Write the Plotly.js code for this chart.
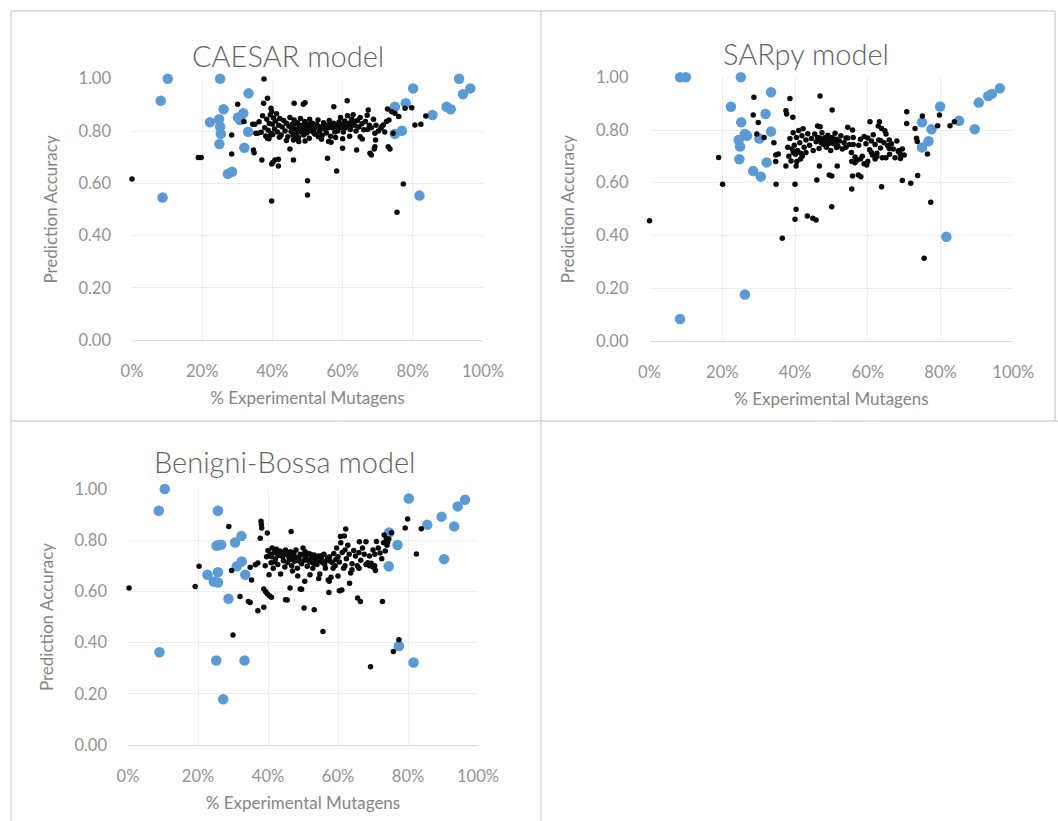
<!DOCTYPE html>
<html>
<head>
<meta charset="utf-8">
<script src="https://cdn.plot.ly/plotly-3.0.1.min.js"></script>
<style>
  html, body { margin: 0; padding: 0; background: #ffffff; }
  #chart { width: 1058px; height: 821px; }
</style>
</head>
<body>
<div id="chart"></div>
<script>
// Panel titles
const panelTitles = ["CAESAR model", "SARpy model", "Benigni-Bossa model"];
const xAxisTitle = "% Experimental Mutagens";
const yAxisTitle = "Prediction Accuracy";

// Each point: [fraction of experimental mutagens, prediction accuracy]
// CAESAR model
const caesarBlue = [
  [0.102,1.00],[0.082,0.916],[0.087,0.546],[0.251,1.00],[0.332,0.944],[0.261,0.883],
  [0.222,0.833],[0.248,0.845],[0.251,0.816],[0.253,0.789],[0.249,0.750],[0.273,0.636],
  [0.285,0.644],[0.302,0.852],[0.317,0.868],[0.308,0.842],[0.331,0.797],[0.320,0.736],
  [0.801,0.963],[0.749,0.893],[0.780,0.906],[0.749,0.789],[0.769,0.801],[0.819,0.553],
  [0.856,0.861],[0.896,0.893],[0.908,0.883],[0.932,1.00],[0.943,0.941],[0.964,0.963]
];
const caesarBlack = [
  [0.000,0.616],[0.189,0.699],[0.197,0.699],[0.284,0.785],[0.284,0.712],[0.301,0.902],
  [0.319,0.836],[0.344,0.826],[0.350,0.826],[0.346,0.727],[0.348,0.717],[0.353,0.791],
  [0.358,0.791],[0.370,0.689],[0.375,0.906],[0.376,0.999],[0.386,0.925],[0.396,0.887],
  [0.398,0.874],[0.398,0.674],[0.401,0.680],[0.407,0.689],[0.417,0.692],[0.417,0.666],
  [0.398,0.532],[0.386,0.772],[0.393,0.782],[0.401,0.787],[0.450,0.731],[0.460,0.689],
  [0.460,0.766],[0.462,0.906],[0.464,0.772],[0.472,0.769],[0.488,0.902],[0.493,0.908],
  [0.493,0.762],[0.500,0.610],[0.500,0.555],[0.519,0.791],[0.531,0.778],[0.557,0.696],
  [0.567,0.757],[0.575,0.893],[0.583,0.647],[0.600,0.734],[0.613,0.916],[0.640,0.727],
  [0.656,0.769],[0.671,0.806],[0.673,0.880],[0.678,0.715],[0.682,0.708],[0.692,0.791],
  [0.694,0.766],[0.692,0.740],[0.690,0.731],[0.702,0.800],[0.709,0.810],[0.716,0.823],
  [0.725,0.836],[0.732,0.842],[0.728,0.884],[0.730,0.740],[0.735,0.731],[0.740,0.874],
  [0.744,0.791],[0.749,0.868],[0.755,0.489],[0.773,0.597],[0.778,0.887],[0.797,0.889],
  [0.806,0.823],[0.823,0.826],[0.837,0.857],[0.760,0.855],
  [0.362,0.835],[0.368,0.795],[0.372,0.858],[0.378,0.812],[0.381,0.781],[0.384,0.845],
  [0.388,0.803],[0.391,0.829],[0.394,0.862],[0.397,0.790],[0.400,0.826],[0.403,0.850],
  [0.406,0.808],[0.409,0.838],[0.412,0.866],[0.415,0.796],[0.418,0.822],[0.421,0.848],
  [0.425,0.785],[0.428,0.815],[0.432,0.840],[0.436,0.800],[0.440,0.830],[0.444,0.778],
  [0.447,0.818],[0.450,0.852],[0.453,0.798],[0.456,0.826],[0.459,0.784],[0.462,0.842],
  [0.465,0.808],[0.468,0.790],[0.471,0.832],[0.474,0.776],[0.477,0.812],[0.480,0.848],
  [0.483,0.795],[0.486,0.822],[0.489,0.785],[0.492,0.836],[0.495,0.806],[0.498,0.792],
  [0.502,0.826],[0.506,0.845],[0.510,0.800],[0.514,0.830],[0.518,0.812],[0.522,0.788],
  [0.526,0.824],[0.530,0.842],[0.534,0.798],[0.538,0.815],[0.542,0.784],[0.546,0.832],
  [0.550,0.806],[0.554,0.792],[0.558,0.822],[0.562,0.840],[0.566,0.780],[0.570,0.812],
  [0.574,0.830],[0.578,0.796],[0.582,0.818],[0.586,0.800],[0.590,0.834],[0.594,0.852],
  [0.598,0.812],[0.602,0.796],[0.606,0.838],[0.610,0.818],[0.614,0.858],[0.618,0.830],
  [0.622,0.806],[0.626,0.845],[0.630,0.862],[0.634,0.822],[0.638,0.800],[0.642,0.840],
  [0.646,0.815],[0.650,0.852],[0.655,0.828],[0.660,0.805],[0.665,0.836],[0.670,0.860],
  [0.676,0.822],[0.682,0.812],[0.688,0.845],[0.695,0.822],[0.712,0.818],[0.720,0.796],
  [0.455,0.815],[0.463,0.828],[0.470,0.806],[0.478,0.822],[0.485,0.810],[0.490,0.818],
  [0.497,0.814],[0.504,0.810],[0.512,0.818],[0.520,0.810],[0.528,0.820],[0.536,0.806],
  [0.544,0.816],[0.552,0.820],[0.560,0.812],[0.568,0.824],[0.576,0.816],[0.584,0.826],
  [0.592,0.815],[0.600,0.823],[0.608,0.812],[0.616,0.828],[0.624,0.821],[0.632,0.836],
  [0.390,0.770],[0.420,0.776],[0.440,0.764],[0.475,0.760],[0.505,0.772],[0.540,0.768],
  [0.580,0.775],[0.620,0.780],[0.560,0.760],[0.600,0.770],[0.650,0.778]
];

// SARpy model
const sarpyBlue = [
  [0.084,1.00],[0.100,1.00],[0.251,1.00],[0.334,0.943],[0.224,0.888],[0.319,0.861],
  [0.252,0.829],[0.262,0.785],[0.268,0.778],[0.245,0.762],[0.249,0.737],[0.334,0.794],
  [0.302,0.768],[0.247,0.689],[0.322,0.677],[0.285,0.644],[0.306,0.623],[0.262,0.176],
  [0.084,0.083],
  [0.799,0.889],[0.749,0.829],[0.775,0.803],[0.767,0.757],[0.749,0.734],[0.851,0.835],
  [0.894,0.803],[0.905,0.904],[0.931,0.929],[0.941,0.937],[0.963,0.958],[0.816,0.395]
];
const sarpyBlack = [
  [0.000,0.456],[0.190,0.696],[0.201,0.594],[0.287,0.924],[0.285,0.857],[0.299,0.828],
  [0.295,0.785],[0.315,0.772],[0.342,0.752],[0.347,0.705],[0.354,0.709],[0.347,0.680],
  [0.348,0.594],[0.365,0.389],[0.375,0.663],[0.400,0.594],[0.403,0.499],[0.400,0.461],
  [0.434,0.474],[0.449,0.465],[0.458,0.458],[0.386,0.920],[0.375,0.873],[0.377,0.861],
  [0.394,0.848],[0.403,0.663],[0.469,0.929],[0.502,0.876],[0.460,0.610],[0.467,0.663],
  [0.516,0.663],[0.494,0.629],[0.501,0.625],[0.501,0.509],[0.556,0.576],[0.638,0.585],
  [0.695,0.608],[0.718,0.598],[0.737,0.627],[0.707,0.869],[0.707,0.825],[0.750,0.853],
  [0.797,0.857],[0.792,0.816],[0.826,0.816],[0.838,0.831],[0.730,0.806],[0.734,0.769],
  [0.736,0.756],[0.764,0.709],[0.773,0.526],[0.755,0.313],[0.558,0.625],[0.574,0.629],
  [0.581,0.623],[0.462,0.815],[0.469,0.812],[0.558,0.800],[0.606,0.831],[0.632,0.831],
  [0.629,0.815],[0.638,0.806],[0.647,0.797],[0.659,0.762],[0.659,0.730],[0.684,0.718],
  [0.689,0.709],[0.613,0.705],[0.625,0.699],[0.597,0.667],[0.556,0.680],[0.565,0.676],
  [0.514,0.734],
  [0.380,0.735],[0.383,0.700],[0.386,0.768],[0.389,0.682],[0.392,0.728],[0.395,0.790],
  [0.398,0.742],[0.401,0.708],[0.404,0.772],[0.407,0.722],[0.410,0.798],[0.413,0.752],
  [0.416,0.712],[0.419,0.778],[0.422,0.805],[0.425,0.735],[0.430,0.762],[0.435,0.786],
  [0.440,0.742],[0.445,0.768],[0.450,0.722],[0.454,0.785],[0.458,0.755],[0.462,0.772],
  [0.466,0.730],[0.470,0.760],[0.474,0.790],[0.478,0.745],[0.482,0.770],[0.486,0.735],
  [0.490,0.780],[0.494,0.755],[0.498,0.722],[0.502,0.772],[0.506,0.748],[0.510,0.788],
  [0.514,0.765],[0.518,0.738],[0.522,0.758],[0.526,0.778],[0.530,0.728],[0.535,0.752],
  [0.540,0.735],[0.545,0.770],[0.550,0.745],[0.555,0.715],[0.560,0.772],[0.565,0.698],
  [0.570,0.685],[0.575,0.742],[0.580,0.765],[0.585,0.700],[0.590,0.672],[0.595,0.748],
  [0.600,0.770],[0.605,0.725],[0.610,0.758],[0.615,0.782],[0.620,0.745],[0.625,0.712],
  [0.630,0.762],[0.635,0.732],[0.640,0.695],[0.645,0.752],[0.650,0.785],[0.655,0.740],
  [0.660,0.708],[0.665,0.748],[0.670,0.728],[0.675,0.695],[0.680,0.758],[0.685,0.722],
  [0.690,0.692],[0.695,0.728],[0.700,0.705],
  [0.468,0.770],[0.472,0.752],[0.476,0.765],[0.480,0.760],[0.484,0.772],[0.488,0.758],
  [0.492,0.748],[0.496,0.770],[0.500,0.757],[0.504,0.762],[0.508,0.764],[0.512,0.750],
  [0.420,0.700],[0.415,0.690],[0.405,0.680],[0.395,0.715],[0.430,0.715],[0.540,0.770],
  [0.560,0.745],[0.580,0.690],[0.600,0.680],[0.620,0.690],[0.635,0.760],[0.650,0.695],
  [0.545,0.810],[0.590,0.775],[0.610,0.715]
];

// Benigni-Bossa model
const bbBlue = [
  [0.105,1.00],[0.088,0.915],[0.090,0.362],[0.257,0.915],[0.253,0.778],[0.261,0.781],
  [0.266,0.782],[0.227,0.665],[0.257,0.675],[0.245,0.639],[0.257,0.635],[0.287,0.571],
  [0.306,0.791],[0.324,0.816],[0.325,0.717],[0.311,0.698],[0.335,0.665],[0.252,0.330],
  [0.333,0.330],[0.272,0.179],
  [0.802,0.963],[0.746,0.830],[0.770,0.781],[0.745,0.698],[0.774,0.387],[0.816,0.322],
  [0.855,0.860],[0.896,0.892],[0.932,0.854],[0.903,0.726],[0.942,0.932],[0.963,0.958]
];
const bbBlack = [
  [0.003,0.613],[0.192,0.619],[0.203,0.698],[0.288,0.854],[0.296,0.682],[0.300,0.430],
  [0.320,0.580],[0.344,0.561],[0.349,0.557],[0.371,0.524],[0.388,0.538],[0.380,0.874],
  [0.381,0.861],[0.382,0.848],[0.378,0.808],[0.398,0.828],[0.450,0.567],[0.466,0.834],
  [0.463,0.613],[0.492,0.609],[0.503,0.535],[0.532,0.528],[0.557,0.443],[0.574,0.596],
  [0.622,0.844],[0.656,0.574],[0.664,0.561],[0.693,0.306],[0.727,0.561],[0.707,0.682],
  [0.758,0.365],[0.774,0.411],[0.792,0.848],[0.799,0.883],[0.838,0.845],[0.824,0.746],
  [0.732,0.820],[0.738,0.806],[0.742,0.792],[0.388,0.609],[0.393,0.600],[0.398,0.591],
  [0.404,0.583],[0.410,0.577],[0.349,0.694],[0.364,0.704],[0.353,0.645],[0.371,0.711],
  [0.604,0.603],[0.611,0.605],[0.633,0.632],[0.496,0.608],[0.455,0.566],[0.753,0.829],
  [0.661,0.794],[0.680,0.794],[0.607,0.814],[0.618,0.816],
  [0.392,0.700],[0.396,0.735],[0.400,0.760],[0.403,0.665],[0.406,0.745],[0.409,0.712],
  [0.412,0.770],[0.415,0.690],[0.418,0.752],[0.421,0.728],[0.424,0.765],[0.428,0.705],
  [0.432,0.740],[0.436,0.668],[0.440,0.752],[0.444,0.720],[0.448,0.695],[0.452,0.745],
  [0.456,0.712],[0.460,0.730],[0.464,0.755],[0.468,0.700],[0.472,0.738],[0.476,0.718],
  [0.480,0.762],[0.484,0.690],[0.488,0.728],[0.492,0.745],[0.496,0.708],[0.500,0.770],
  [0.504,0.722],[0.508,0.735],[0.512,0.698],[0.516,0.748],[0.520,0.715],[0.524,0.730],
  [0.528,0.690],[0.532,0.742],[0.536,0.722],[0.540,0.705],[0.544,0.738],[0.548,0.668],
  [0.552,0.728],[0.556,0.712],[0.560,0.745],[0.564,0.690],[0.568,0.722],[0.572,0.645],
  [0.576,0.735],[0.580,0.655],[0.584,0.712],[0.588,0.748],[0.592,0.700],[0.596,0.770],
  [0.600,0.735],[0.604,0.715],[0.608,0.790],[0.612,0.752],[0.616,0.690],[0.620,0.762],
  [0.624,0.728],[0.628,0.780],[0.632,0.745],[0.636,0.672],[0.640,0.708],[0.645,0.760],
  [0.650,0.738],[0.655,0.700],[0.660,0.752],[0.665,0.722],[0.670,0.770],[0.675,0.745],
  [0.680,0.705],[0.685,0.712],[0.690,0.738],[0.695,0.710],[0.700,0.762],[0.705,0.745],
  [0.710,0.795],[0.715,0.770],[0.720,0.750],[0.725,0.728],[0.730,0.790],[0.735,0.758],
  [0.740,0.780],[0.745,0.805],
  [0.426,0.748],[0.434,0.758],[0.442,0.735],[0.450,0.762],[0.458,0.742],[0.466,0.725],
  [0.474,0.750],[0.482,0.732],[0.490,0.718],[0.498,0.742],[0.506,0.755],[0.514,0.722],
  [0.522,0.745],[0.530,0.710],[0.538,0.735],[0.546,0.720],[0.554,0.740],[0.562,0.705],
  [0.570,0.730],[0.578,0.718],[0.586,0.690],[0.594,0.725],[0.410,0.735],[0.420,0.715],
  [0.470,0.680],[0.485,0.660],[0.505,0.640],[0.520,0.665],[0.545,0.650],[0.575,0.640],
  [0.600,0.660],[0.620,0.700],[0.640,0.685],[0.660,0.690],[0.690,0.700],[0.700,0.695],
  [0.705,0.700]
];

const W = 1058, H = 821;
const BLUE = "#5b9bd5";
const FONT = "Lato, 'Open Sans', sans-serif";

// Plot areas in pixels: [left, right, top, bottom]
const boxes = [
  [132, 483, 78.7, 340.2],
  [649.5, 1013.3, 77.3, 340.8],
  [128, 478, 489, 745]
];
const seriesBlue = [caesarBlue, sarpyBlue, bbBlue];
const seriesBlack = [caesarBlack, sarpyBlack, bbBlack];

const traces = [];
const layout = {
  width: W, height: H,
  margin: {l: 0, r: 0, t: 0, b: 0},
  paper_bgcolor: "#ffffff",
  plot_bgcolor: "#ffffff",
  showlegend: false,
  font: {family: FONT, color: "#8c8c8c"},
  annotations: [],
  shapes: []
};

const titleCenters = [[288, 55], [806, 54], [284, 461]];

boxes.forEach((b, i) => {
  const sfx = i === 0 ? "" : String(i + 1);
  const xa = "x" + sfx, ya = "y" + sfx;
  traces.push({
    type: "scatter", mode: "markers", xaxis: xa, yaxis: ya, cliponaxis: false,
    x: seriesBlue[i].map(p => p[0]), y: seriesBlue[i].map(p => p[1]),
    marker: {color: BLUE, size: 10.5}, hoverinfo: "skip"
  });
  traces.push({
    type: "scatter", mode: "markers", xaxis: xa, yaxis: ya, cliponaxis: false,
    x: seriesBlack[i].map(p => p[0]), y: seriesBlack[i].map(p => p[1]),
    marker: {color: "#0a0a0a", size: 5.5}, hoverinfo: "skip"
  });
  layout["xaxis" + sfx] = {
    domain: [b[0] / W, b[1] / W], anchor: ya,
    range: [0, 1], dtick: 0.2, tick0: 0, tickformat: ".0%",
    showgrid: true, gridcolor: "#ededed", gridwidth: 1,
    zeroline: false, showline: true, linecolor: "#dcdcdc", linewidth: 1,
    ticks: "", ticklabelstandoff: 16,
    tickfont: {family: FONT, size: 16.5, color: "#939393"},
    title: {text: xAxisTitle, standoff: 12, font: {family: FONT, size: 17, color: "#858585"}},
    fixedrange: true
  };
  layout["yaxis" + sfx] = {
    domain: [1 - b[3] / H, 1 - b[2] / H], anchor: xa,
    range: [0, 1], dtick: 0.2, tick0: 0, tickformat: ".2f",
    showgrid: true, gridcolor: "#ededed", gridwidth: 1,
    zeroline: false, showline: false,
    ticks: "", ticklabelstandoff: 20,
    tickfont: {family: FONT, size: 16.5, color: "#939393"},
    title: {text: yAxisTitle, standoff: 16, font: {family: FONT, size: 17, color: "#858585"}},
    fixedrange: true
  };
  layout.annotations.push({
    xref: "paper", yref: "paper",
    x: titleCenters[i][0] / W, y: 1 - titleCenters[i][1] / H,
    xanchor: "center", yanchor: "middle", showarrow: false,
    text: panelTitles[i],
    font: {family: FONT, size: 29, color: "#626262", weight: 300}
  });
});

// Frame lines around the panels
const frame = [
  [11, 11, 1055, 11], [11, 11, 11, 821], [541, 11, 541, 821],
  [11, 421, 1058, 421], [1055, 11, 1055, 421]
];
frame.forEach(f => {
  layout.shapes.push({
    type: "line", xref: "paper", yref: "paper", layer: "below",
    x0: f[0] / W, y0: 1 - f[1] / H, x1: f[2] / W, y1: 1 - f[3] / H,
    line: {color: "#d6d6d6", width: 1.5}
  });
});

Plotly.newPlot("chart", traces, layout, {staticPlot: true, displayModeBar: false});
</script>
</body>
</html>
